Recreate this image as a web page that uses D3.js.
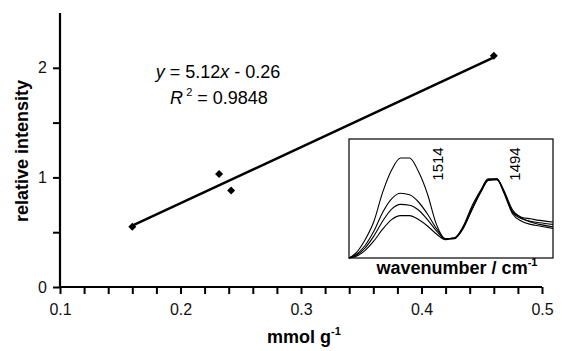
<!DOCTYPE html>
<html>
<head>
<meta charset="utf-8">
<script src="https://cdn.jsdelivr.net/npm/d3@7"></script>
<style>
  body { margin: 0; background: #fff; }
  svg { font-family: Arial, "Liberation Sans", sans-serif; }
</style>
</head>
<body>
<svg id="chart" width="562" height="351"></svg>
<script>
// main scatter data
var loading = [0.16, 0.232, 0.242, 0.46];
var intensity = [0.55, 1.03, 0.88, 2.11];
var fitSlope = 5.12;
var fitIntercept = -0.26;
var xTicks = [0.1, 0.2, 0.3, 0.4, 0.5];
var yTicks = [0, 1, 2];

// inset spectra (normalised on 1494 band)
var wavenumber = [1526.5, 1525, 1523, 1521, 1519, 1517, 1515, 1513, 1511, 1509, 1507, 1505,
                  1503, 1501, 1499, 1497, 1495.5, 1493.5, 1492, 1490, 1488, 1486, 1484, 1481];
var spec1 = [0.0, 0.06, 0.22, 0.45, 0.82, 1.10, 1.25, 1.25, 1.08, 0.80, 0.42, 0.24,
             0.25, 0.40, 0.66, 0.86, 0.99, 0.99, 0.82, 0.55, 0.46, 0.42, 0.40, 0.37];
var spec2 = [0.0, 0.04, 0.15, 0.33, 0.57, 0.74, 0.81, 0.79, 0.70, 0.55, 0.37, 0.24,
             0.25, 0.39, 0.63, 0.85, 0.98, 0.98, 0.83, 0.57, 0.49, 0.46, 0.44, 0.42];
var spec3 = [0.0, 0.03, 0.12, 0.27, 0.46, 0.61, 0.67, 0.66, 0.60, 0.48, 0.34, 0.24,
             0.25, 0.38, 0.62, 0.84, 0.97, 0.98, 0.84, 0.58, 0.51, 0.49, 0.47, 0.45];
var spec4 = [0.0, 0.02, 0.09, 0.21, 0.36, 0.48, 0.53, 0.53, 0.48, 0.40, 0.30, 0.23,
             0.24, 0.37, 0.61, 0.83, 0.97, 0.99, 0.85, 0.60, 0.50, 0.45, 0.42, 0.39];
var peakLabels = [1514, 1494];

var svg = d3.select("#chart");

var x = d3.scaleLinear().domain([0.1, 0.5]).range([60, 542]);
var y = d3.scaleLinear().domain([0, 2.5]).range([287, 13]);

// x axis: minor ticks every 0.02, labels on 0.1 steps
var xAxis = svg.append("g")
  .attr("transform", "translate(0,287)")
  .call(d3.axisBottom(x).tickValues(d3.range(0.1, 0.5001, 0.02)).tickSize(7).tickPadding(10)
    .tickFormat(function (d) {
      var r = Math.round(d * 100) / 100;
      return xTicks.some(function (t) { return Math.abs(t - r) < 1e-6; }) ? d3.format(".1f")(r) : "";
    }));

var yAxis = svg.append("g")
  .attr("transform", "translate(60,0)")
  .call(d3.axisLeft(y).tickValues([0, 0.5, 1, 1.5, 2]).tickSize(7).tickPadding(6)
    .tickFormat(function (d) { return yTicks.indexOf(d) >= 0 ? d : ""; }));

[xAxis, yAxis].forEach(function (a) {
  a.select(".domain").attr("stroke-width", 2.2);
  a.selectAll(".tick line").attr("stroke-width", 2);
  a.selectAll("text").style("font-size", "16px").attr("fill", "#111");
});
xAxis.select(".domain").attr("d", "M" + x(0.1) + ",0H" + x(0.5));
yAxis.select(".domain").attr("d", "M0," + y(0) + "V" + y(2.5));

// axis titles
var xt = svg.append("text")
  .attr("x", 304).attr("y", 343)
  .attr("text-anchor", "middle")
  .style("font-size", "18px").style("font-weight", "bold")
  .text("mmol g");
xt.append("tspan").attr("dy", -8).style("font-size", "11px").text("-1");

svg.append("text")
  .attr("transform", "translate(28,151) rotate(-90)")
  .attr("text-anchor", "middle")
  .style("font-size", "18px").style("font-weight", "bold")
  .text("relative intensity");

// regression line
var fit = function (v) { return fitSlope * v + fitIntercept; };
var x0 = d3.min(loading), x1 = d3.max(loading);
svg.append("line")
  .attr("x1", x(x0)).attr("y1", y(fit(x0)))
  .attr("x2", x(x1)).attr("y2", y(fit(x1)))
  .attr("stroke", "#000").attr("stroke-width", 2.5);

// points
svg.selectAll(".pt")
  .data(loading)
  .enter().append("path")
  .attr("class", "pt")
  .attr("d", d3.symbol().type(d3.symbolSquare).size(32))
  .attr("transform", function (d, i) { return "translate(" + x(d) + "," + y(intensity[i]) + ") rotate(45)"; })
  .attr("fill", "#000");

// equation
var eq = svg.append("text").attr("x", 218).attr("y", 78).attr("text-anchor", "middle").style("font-size", "18px");
eq.append("tspan").style("font-style", "italic").text("y");
eq.append("tspan").text(" = " + fitSlope.toFixed(2));
eq.append("tspan").style("font-style", "italic").text("x");
eq.append("tspan").text(" - " + Math.abs(fitIntercept).toFixed(2));

var r2 = svg.append("text").attr("x", 219).attr("y", 104).attr("text-anchor", "middle").style("font-size", "18px");
r2.append("tspan").style("font-style", "italic").text("R");
r2.append("tspan").attr("dy", -8).style("font-size", "11px").text(" 2");
r2.append("tspan").attr("dy", 8).text(" = 0.9848");

// inset
var ix = d3.scaleLinear().domain([1526.5, 1481]).range([349, 553]);
var iy = d3.scaleLinear().domain([0, 1]).range([258, 178]);

svg.append("rect")
  .attr("x", 349).attr("y", 139).attr("width", 204).attr("height", 119)
  .attr("fill", "#fff").attr("stroke", "#000").attr("stroke-width", 1.2);

var line = d3.line()
  .x(function (d, i) { return ix(wavenumber[i]); })
  .y(function (d) { return iy(d); })
  .curve(d3.curveMonotoneX);

svg.selectAll(".spec")
  .data([spec1, spec2, spec3, spec4])
  .enter().append("path")
  .attr("class", "spec")
  .attr("d", line)
  .attr("fill", "none").attr("stroke", "#000").attr("stroke-width", 1.1);

var labelShift = [8.5, 5.6];
svg.selectAll(".peak")
  .data(peakLabels)
  .enter().append("text")
  .attr("class", "peak")
  .attr("transform", function (d, i) { return "translate(" + ix(d - labelShift[i]) + ",164) rotate(-90)"; })
  .attr("text-anchor", "middle")
  .style("font-size", "15px")
  .text(function (d) { return d; });

var wt = svg.append("text")
  .attr("x", 457).attr("y", 274)
  .attr("text-anchor", "middle")
  .style("font-size", "18px").style("font-weight", "bold")
  .text("wavenumber / cm");
wt.append("tspan").attr("dy", -8).style("font-size", "11px").text("-1");
</script>
</body>
</html>
